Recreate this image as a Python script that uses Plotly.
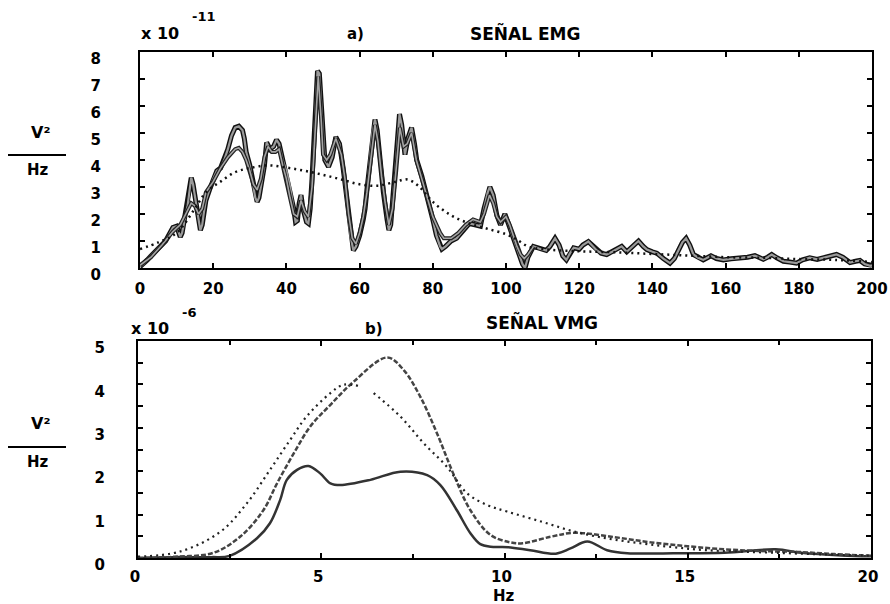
import plotly.graph_objects as go

# ---------------- a) SEÑAL EMG (x 10^-11) ----------------
emg_x = [0, 1, 2, 3, 4, 5, 6, 7, 8, 9, 10, 10.5, 11, 11.5, 12, 12.5, 13, 13.5, 14, 14.5, 15, 15.5, 16, 16.5,
         17, 17.5, 18, 19, 20, 21, 22, 23, 24, 25, 26, 27, 28, 28.5, 29, 30, 31, 31.5, 32, 32.5, 33, 34, 34.6,
         35.5, 36.5, 37.3, 38, 39, 40, 41, 42, 42.5, 43, 43.5, 44, 44.5, 45.5, 46, 46.5, 47, 47.5, 48, 48.5,
         49, 49.5, 50, 50.5, 51.5, 52.5, 53.5, 54.5, 55.5, 56.5, 57.5, 58.3, 59, 60, 61, 61.5, 62, 62.8, 63.5,
         64.2, 64.8, 65.5, 66.5, 67.5, 68, 68.5, 69, 69.7, 70.4, 70.9, 71.5, 72.4, 73.2, 74.2, 75, 75.6, 77,
         78, 79, 80, 81, 82, 82.5, 83.5, 85, 86.5, 88, 90, 91.5, 93, 94, 95, 95.6, 96.5, 97.5, 98.5, 99.7,
         100.5, 101.5, 102.5, 103.5, 104.5, 105.2, 106, 107.5, 109, 111, 112, 113.4, 114.5, 115.5, 116.5,
         117.5, 118.5, 120, 121, 122.5, 123.5, 124.8, 126, 127.5, 129, 130.5, 131.6, 133, 134.5, 136.2, 137.5,
         138.5, 140, 141.2, 143, 144.8, 146, 147, 148.2, 149.2, 150.2, 151.2, 152.5, 153.9, 155, 156, 157.5,
         159.4, 161.5, 163.9, 166, 168, 169.2, 170.3, 171.5, 172.6, 174, 175.8, 177.5, 179.4, 181, 183, 185,
         186.7, 188.5, 190.3, 192, 194, 195.5, 196.7, 198, 199.5, 200]
emg_y = [0.05, 0.15, 0.3, 0.45, 0.6, 0.75, 0.85, 1.0, 1.25, 1.5, 1.55, 1.3, 1.15, 1.3, 1.7, 2.0, 2.3, 2.9, 3.35,
         3.1, 2.6, 2.3, 1.8, 1.4, 1.6, 2.1, 2.5, 2.9, 3.3, 3.6, 3.7, 4.0, 4.4, 4.9, 5.2, 5.25, 5.1, 4.8, 4.3,
         3.8, 3.0, 2.6, 2.45, 2.6, 3.0, 3.8, 4.65, 4.4, 4.5, 4.75, 4.6, 4.0, 3.6, 3.0, 2.2, 1.7, 1.75, 2.4, 2.7,
         2.2, 1.7, 1.65, 2.2, 3.3, 4.5, 6.0, 7.3, 7.2, 6.0, 4.8, 4.0, 3.75, 4.1, 4.85, 4.6, 3.7, 2.5, 1.2, 0.65,
         0.8, 1.2, 1.8, 2.2, 2.9, 4.0, 5.0, 5.5, 5.1, 4.0, 2.8, 1.8, 1.4, 1.6, 2.5, 3.5, 4.8, 5.7, 5.3, 4.2, 4.8,
         5.2, 4.6, 4.0, 3.4, 2.9, 2.3, 1.8, 1.2, 0.8, 0.7, 0.8, 1.0, 1.1, 1.35, 1.65, 1.6, 1.55, 2.2, 2.8, 3.0,
         2.7, 1.95, 1.6, 2.0, 1.7, 1.3, 0.9, 0.5, 0.15, 0.0, 0.4, 0.8, 0.72, 0.65, 0.8, 1.1, 0.85, 0.45, 0.3,
         0.55, 0.75, 0.7, 0.85, 0.98, 0.85, 0.65, 0.55, 0.5, 0.6, 0.72, 0.8, 0.6, 0.8, 1.0, 0.8, 0.68, 0.6,
         0.55, 0.35, 0.18, 0.35, 0.6, 0.95, 1.1, 0.85, 0.5, 0.38, 0.3, 0.38, 0.45, 0.35, 0.3, 0.34, 0.36, 0.4,
         0.46, 0.38, 0.32, 0.4, 0.5, 0.38, 0.25, 0.22, 0.18, 0.3, 0.38, 0.32, 0.38, 0.42, 0.5, 0.4, 0.2, 0.25,
         0.28, 0.15, 0.08, 0.1]

emg2_x = [0, 3, 6, 9, 11, 13, 14, 15, 16, 17, 18, 20, 22, 24, 26, 27, 28, 29, 30, 31, 32, 33, 34, 35, 36, 37,
          38, 39, 40, 41, 42, 43, 44, 45, 46, 47, 48, 48.7, 49.5, 50, 51, 52, 53.5, 55, 56, 57, 58, 59, 60, 61,
          62, 63, 64.2, 65, 66, 67, 68, 69, 70, 71, 72, 73, 74.2, 75.5, 77, 79, 80, 81, 82, 83, 85, 87, 89, 91,
          93, 94, 95.5, 96.5, 97.5, 98.5, 100, 101, 102, 103, 104, 105, 106, 107.5]
emg2_y = [0.1, 0.4, 0.85, 1.35, 1.6, 2.1, 2.4, 2.3, 2.0, 2.2, 2.8, 3.2, 3.7, 4.1, 4.4, 4.45, 4.3, 4.0, 3.6,
          3.1, 2.9, 3.3, 4.1, 4.5, 4.3, 4.3, 4.4, 3.8, 3.3, 2.6, 2.0, 1.9, 2.5, 2.1, 1.9, 3.0, 5.5, 7.1, 5.5,
          4.2, 4.0, 4.2, 4.8, 4.2, 3.3, 2.0, 1.1, 0.9, 1.3, 1.9, 2.8, 4.0, 5.3, 4.7, 3.4, 2.4, 1.6, 2.2, 3.6,
          5.2, 4.5, 4.6, 5.0, 4.0, 3.3, 2.4, 1.9, 1.6, 1.3, 1.1, 1.1, 1.3, 1.6, 1.8, 1.7, 2.0, 2.7, 2.4, 1.9,
          1.7, 1.9, 1.6, 1.2, 0.8, 0.5, 0.35, 0.5, 0.8]

emg_fit_x = [0, 5, 10, 15, 18, 22, 26, 30, 35, 40, 45, 50, 55, 60, 65, 70, 73, 76, 80, 85, 90, 95, 100, 103,
             106, 110, 120, 130, 140, 150, 160, 170, 180, 190, 200]
emg_fit_y = [0.7, 0.95, 1.3, 2.2, 2.8, 3.2, 3.55, 3.7, 3.8, 3.72, 3.6, 3.45, 3.28, 3.1, 3.05, 3.2, 3.28, 3.05,
             2.45, 1.95, 1.65, 1.45, 1.25, 1.05, 0.8, 0.7, 0.62, 0.58, 0.52, 0.46, 0.4, 0.38, 0.33, 0.3, 0.22]

emg_xticks = [0, 20, 40, 60, 80, 100, 120, 140, 160, 180, 200]
emg_yticks = [0, 1, 2, 3, 4, 5, 6, 7, 8]

# ---------------- b) SEÑAL VMG (x 10^-6) ----------------
vmg_a_x = [0, 1, 2, 2.5, 3.24, 3.6, 3.88, 4.06, 4.34, 4.65, 4.97, 5.25, 5.52, 6.34, 7.16, 7.89, 8.25, 8.7,
           9.07, 9.34, 9.62, 10.1, 10.7, 11.4, 11.8, 12.26, 12.8, 13.35, 14.6, 16, 17.4, 18.1, 19.2, 20]
vmg_a_y = [0.0, 0.02, 0.02, 0.05, 0.45, 0.8, 1.34, 1.8, 2.03, 2.12, 1.95, 1.72, 1.68, 1.8, 1.99, 1.91, 1.68,
           1.1, 0.57, 0.32, 0.26, 0.25, 0.18, 0.1, 0.22, 0.38, 0.18, 0.11, 0.11, 0.12, 0.2, 0.12, 0.06, 0.04]

vmg_b_x = [0, 1, 2.06, 2.8, 3.42, 3.8, 4.25, 4.7, 5.25, 5.88, 6.8, 7.25, 7.7, 8.16, 8.6, 9.07, 9.62, 10.16,
           10.5, 11.26, 11.9, 13, 14, 15, 16, 17, 18, 19, 20]
vmg_b_y = [0.0, 0.03, 0.12, 0.5, 1.1, 1.73, 2.41, 3.03, 3.53, 4.06, 4.62, 4.33, 3.72, 2.87, 1.95, 1.1, 0.53,
           0.36, 0.34, 0.49, 0.58, 0.48, 0.36, 0.27, 0.2, 0.16, 0.14, 0.09, 0.05]

vmg_c_x = [0, 1.15, 2.24, 2.97, 3.6, 4.15, 4.6, 5.25, 5.6, 6.1, 6.25, 6.43, 7.16, 7.8, 8.43, 8.98, 9.53,
           10.07, 11, 11.9, 12.8, 13.7, 14.6, 15.5, 17.4, 19.2, 20.3]
vmg_c_y = [0.03, 0.15, 0.6, 1.26, 2.03, 2.72, 3.26, 3.8, 3.99, 3.95, None, 3.8, 3.26, 2.64, 2.1, 1.49, 1.22,
           1.07, 0.84, 0.61, 0.45, 0.34, 0.25, 0.18, 0.12, 0.07, 0.05]

vmg_xticks = [0, 5, 10, 15, 20]
vmg_yticks = [0, 1, 2, 3, 4, 5]

FONT = "DejaVu Sans"
W, H = 890, 604


def px(x):
    return x / W


def py(y):
    return 1 - y / H


fig = go.Figure()

# top panel
fig.add_trace(go.Scatter(x=emg_x, y=emg_y, mode="lines", line=dict(color="#111", width=5),
                         xaxis="x", yaxis="y", showlegend=False, hoverinfo="skip"))
fig.add_trace(go.Scatter(x=emg_x, y=emg_y, mode="lines", line=dict(color="#9a9a9a", width=2.2),
                         xaxis="x", yaxis="y", showlegend=False))
fig.add_trace(go.Scatter(x=emg2_x, y=emg2_y, mode="lines", line=dict(color="#222", width=4),
                         xaxis="x", yaxis="y", showlegend=False, hoverinfo="skip"))
fig.add_trace(go.Scatter(x=emg2_x, y=emg2_y, mode="lines", line=dict(color="#a5a5a5", width=1.6),
                         xaxis="x", yaxis="y", showlegend=False))
fig.add_trace(go.Scatter(x=emg_fit_x, y=emg_fit_y, mode="lines", line=dict(color="#111", width=2.5, dash="2px,4px", shape="spline"),
                         xaxis="x", yaxis="y", showlegend=False))

# bottom panel
fig.add_trace(go.Scatter(x=vmg_a_x, y=vmg_a_y, mode="lines", line=dict(color="#333", width=2.5, shape="spline"),
                         xaxis="x2", yaxis="y2", showlegend=False))
fig.add_trace(go.Scatter(x=vmg_b_x, y=vmg_b_y, mode="lines", line=dict(color="#444", width=2.5, dash="5px,2px", shape="spline"),
                         xaxis="x2", yaxis="y2", showlegend=False))
fig.add_trace(go.Scatter(x=vmg_c_x, y=vmg_c_y, mode="lines", line=dict(color="#222", width=2.2, dash="2px,4px", shape="spline"),
                         xaxis="x2", yaxis="y2", showlegend=False, connectgaps=False))

tickfont = dict(family=FONT, size=15, color="black", weight="bold")
common = dict(showgrid=False, zeroline=False, showline=True, linecolor="black", linewidth=2,
              mirror="ticks", ticks="inside", ticklen=5, tickwidth=1.5, tickcolor="black",
              tickfont=tickfont, automargin=False)

fig.update_layout(
    width=W, height=H,
    margin=dict(l=0, r=0, t=0, b=0),
    paper_bgcolor="white", plot_bgcolor="white",
    xaxis=dict(domain=[px(140), px(872)], anchor="y", range=[0, 200], tickvals=emg_xticks,
               ticklabelstandoff=6, **common),
    yaxis=dict(domain=[py(268), py(52)], anchor="x", range=[0, 8], tickvals=emg_yticks,
               ticklabelstandoff=34, ticklabelshift=7, **common),
    xaxis2=dict(domain=[px(138), px(871)], anchor="y2", range=[0, 20], tickvals=vmg_xticks,
                ticklabelstandoff=4, ticklabelshift=-3,
                minor=dict(dtick=2.5, ticks="inside", ticklen=4, tickcolor="black"), **common),
    yaxis2=dict(domain=[py(558), py(341)], anchor="x2", range=[0, 5], tickvals=vmg_yticks,
                ticklabelstandoff=28, ticklabelshift=7,
                minor=dict(dtick=0.5, ticks="inside", ticklen=5, tickcolor="black"), **common),
)

bold = dict(family=FONT, color="black", weight="bold")
anns = [
    ("x 10", 160, 34, 16), ("-11", 204, 17, 13), ("a)", 355, 34, 15), ("SEÑAL EMG", 525, 33, 17),
    ("x 10", 150, 329, 16), ("-6", 189, 312, 13), ("b)", 374, 329, 15), ("SEÑAL VMG", 542, 322, 17),
    ("V²", 40, 133, 16), ("Hz", 38, 170, 15),
    ("V²", 40, 423, 16), ("Hz", 38, 462, 15),
    ("Hz", 504, 596, 15),
]
for text, x, y, s in anns:
    fig.add_annotation(text=text, x=px(x), y=py(y), xref="paper", yref="paper", showarrow=False,
                       xanchor="center", yanchor="middle", font=dict(size=s, **bold))

fig.add_shape(type="line", xref="paper", yref="paper", x0=px(8), x1=px(66), y0=py(155), y1=py(155),
              line=dict(color="black", width=2))
fig.add_shape(type="line", xref="paper", yref="paper", x0=px(8), x1=px(66), y0=py(447), y1=py(447),
              line=dict(color="black", width=2))

fig.write_html("out.html")
